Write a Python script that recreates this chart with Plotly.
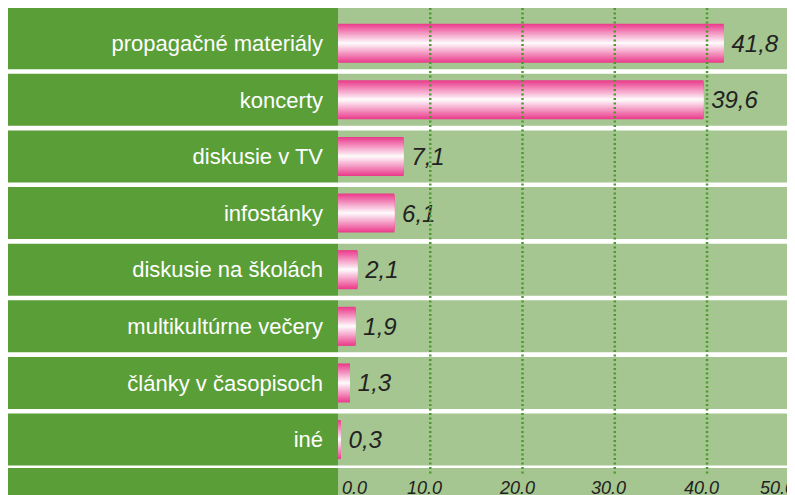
import plotly.graph_objects as go

# ---- data ----
categories = [
    "propagačné materiály",
    "koncerty",
    "diskusie v TV",
    "infostánky",
    "diskusie na školách",
    "multikultúrne večery",
    "články v časopisoch",
    "iné",
]
values = [41.8, 39.6, 7.1, 6.1, 2.1, 1.9, 1.3, 0.3]
tick_vals = [0, 10, 20, 30, 40, 50]
tick_text = ["0.0", "10.0", "20.0", "30.0", "40.0", "50.0"]
grid_vals = [10, 20, 30, 40]

# ---- style ----
DARK = "#5a9e38"
LIGHT = "#a5c690"
PINK = (234, 60, 140)
GRID = "#4a9a2e"
FONT = "Liberation Sans, Arial, Helvetica, sans-serif"
W, H = 795, 495
ML = 330
X_MAX = 50.4
Y_TOP, Y_BOT = -0.621, 8.12
BAR_W = 0.69
ROW_HALF = 0.46
FIRST_TOP = -0.7

n = len(categories)
fig = go.Figure()

# gradient bars: overlaid layers, narrowing towards a white core
n_layers = 24
for k in range(n_layers):
    r = 1 - k / n_layers
    f = r ** 1.0
    col = tuple(round(255 + (c - 255) * f) for c in PINK)
    kw = {}
    if k == 0:
        kw = dict(
            text=["\u2009" + f"{v:.1f}".replace(".", ",") for v in values],
            textposition="outside",
            textfont=dict(size=24, style="italic", color="#222222", family=FONT),
            constraintext="none",
            cliponaxis=False,
        )
    fig.add_trace(go.Bar(
        y=categories, x=values, orientation="h", width=BAR_W * r,
        marker=dict(color=f"rgb{col}", line=dict(width=0)),
        hoverinfo="skip", showlegend=False, **kw,
    ))

shapes = []
panel_left = -ML / (W - ML)
for i in range(n + 1):
    top = FIRST_TOP if i == 0 else i - ROW_HALF
    bot = i + ROW_HALF
    if i == n:
        top, bot = n - 0.5, n + 0.8
    shapes.append(dict(type="rect", xref="paper", yref="y", x0=panel_left, x1=0,
                       y0=top, y1=bot, fillcolor=DARK, line=dict(width=0), layer="below"))
    shapes.append(dict(type="rect", xref="paper", yref="y", x0=0, x1=1,
                       y0=top, y1=bot, fillcolor=LIGHT, line=dict(width=0), layer="below"))
for g in grid_vals:
    shapes.append(dict(type="line", xref="x", yref="y", x0=g, x1=g,
                       y0=FIRST_TOP, y1=n - 0.5 + 0.14,
                       line=dict(color=GRID, width=2.5, dash="2px,2.5px"), layer="above"))

annotations = []
last = len(tick_vals) - 1
for j, (v, t) in enumerate(zip(tick_vals, tick_text)):
    if j == 0:
        anchor, shift = "left", 2
    elif j == last:
        anchor, shift = "right", -2
    else:
        anchor, shift = "center", -6
    annotations.append(dict(
        x=v, y=0, xref="x", yref="paper", text=t, showarrow=False,
        xanchor=anchor, yanchor="bottom", xshift=shift, yshift=3,
        font=dict(size=18, style="italic", color="#222222", family=FONT),
    ))

fig.update_layout(
    width=W, height=H,
    margin=dict(l=ML, r=0, t=0, b=0),
    paper_bgcolor="white", plot_bgcolor="white",
    barmode="overlay",
    shapes=shapes, annotations=annotations,
    xaxis=dict(range=[0, X_MAX], showgrid=False, zeroline=False,
               showticklabels=False, ticks=""),
    yaxis=dict(type="category", categoryorder="array", categoryarray=categories,
               range=[Y_BOT, Y_TOP], showgrid=False, zeroline=False, ticks="",
               tickfont=dict(size=22, color="white", family=FONT),
               ticklabelstandoff=14),
    font=dict(family=FONT),
)

fig.write_html("out.html")
